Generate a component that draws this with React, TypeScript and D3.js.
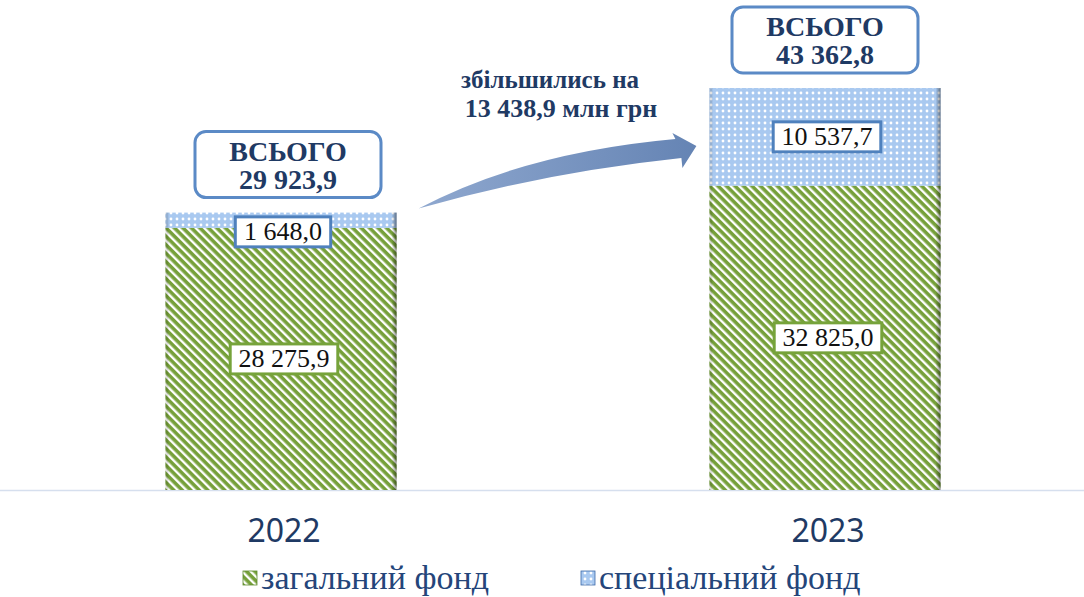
import React from 'react';
import * as d3 from 'd3';

// chart data (млн грн)
const years = ['2022', '2023'];
const generalFund = [28275.9, 32825.0];
const specialFund = [1648.0, 10537.7];
const totals = ['29 923,9', '43 362,8'];
const increaseText = ['збільшились на', '13 438,9 млн грн'];
const legendLabels = ['загальний фонд', 'спеціальний фонд'];

const W = 1084;
const H = 597;
const baseY = 490;

const fmt = (v: number) => {
  const s = v.toFixed(1).replace('.', ',');
  const [i, f] = s.split(',');
  return i.replace(/\B(?=(\d{3})+(?!\d))/g, ' ') + ',' + f;
};

const serif = { fontFamily: "'Liberation Serif', 'Times New Roman', serif" };

const App: React.FC = () => {
  const x = d3.scaleBand<string>().domain(years).range([9, 1097]).padding(0);
  const maxTotal = d3.max(years.map((_, i) => generalFund[i] + specialFund[i])) || 1;
  const y = d3.scaleLinear().domain([0, maxTotal]).range([baseY, 88]);
  const barW = x.bandwidth() * 0.425;

  const navy = '#1f3a64';

  const bars = years.map((yr, i) => {
    const cx = (x(yr) || 0) + x.bandwidth() / 2;
    const x0 = cx - barW / 2;
    const gTop = y(generalFund[i]);
    const sTop = y(generalFund[i] + specialFund[i]);
    return { yr, i, cx, x0, gTop, sTop };
  });

  const arrowFrom = bars[0].x0 + barW + 22;
  const arrowTo = bars[1].x0 - 13;
  const tailY = bars[0].sTop - 6;
  const tipY = y(maxTotal) + 58;
  const arrowPath = (() => {
    const p = d3.path();
    const L = arrowTo - arrowFrom;
    p.moveTo(arrowFrom, tailY + 2);
    p.quadraticCurveTo(arrowFrom + L * 0.45, tailY - 34, arrowTo - 15, tipY + 12);
    p.lineTo(arrowTo - 14, tipY + 22);
    p.lineTo(arrowTo, tipY);
    p.lineTo(arrowTo - 24, tipY - 13);
    p.lineTo(arrowTo - 21, tipY - 7);
    p.quadraticCurveTo(arrowFrom + L * 0.38, tailY - 54, arrowFrom, tailY + 2);
    p.closePath();
    return p.toString();
  })();

  const valueBox = (cx: number, cy: number, text: string, stroke: string, key: string) => {
    const w = text.length * 12.2 + 10;
    return (
      <g key={key}>
        <rect x={cx - w / 2} y={cy - 15} width={w} height={30} fill="#fff" stroke={stroke} strokeWidth={3} />
        <text x={cx} y={cy + 8.5} textAnchor="middle" style={serif} fontSize={26} fill="#111">
          {text}
        </text>
      </g>
    );
  };

  return (
    <svg width={W} height={H} style={{ display: 'block', position: 'absolute', left: 0, top: 0 }}>
      <defs>
        <pattern id="greenStripes" width="6" height="6" patternUnits="userSpaceOnUse" patternTransform="rotate(45)">
          <rect width="6" height="6" fill="#fff" />
          <rect width="6" height="3.6" fill="#76a03a" />
        </pattern>
        <pattern id="blueDots" width="6" height="6" patternUnits="userSpaceOnUse">
          <rect width="6" height="6" fill="#a9c9f0" />
          <circle cx="3" cy="3" r="1.4" fill="#fff" />
        </pattern>
        <linearGradient id="arrowGrad" x1="0" x2="1" y1="0" y2="0">
          <stop offset="0" stopColor="#8fa8cf" />
          <stop offset="1" stopColor="#6584b4" />
        </linearGradient>
        <linearGradient id="edgeShade" x1="0" x2="1" y1="0" y2="0">
          <stop offset="0" stopColor="#000" stopOpacity="0" />
          <stop offset="1" stopColor="#000" stopOpacity="0.45" />
        </linearGradient>
      </defs>

      <rect width={W} height={H} fill="#fff" />

      {/* baseline */}
      <line x1={0} x2={W} y1={baseY + 0.5} y2={baseY + 0.5} stroke="#d6dfee" strokeWidth={1.5} />

      {bars.map((b) => (
        <g key={b.yr}>
          <rect x={b.x0} y={b.gTop} width={barW} height={baseY - b.gTop} fill="url(#greenStripes)" />
          <rect x={b.x0} y={b.sTop} width={barW} height={b.gTop - b.sTop} fill="url(#blueDots)" />
          <rect x={b.x0 + barW - 5} y={b.sTop} width={5} height={baseY - b.sTop} fill="url(#edgeShade)" />
          <rect x={b.x0} y={b.sTop} width={3} height={baseY - b.sTop} fill="#000" opacity={0.12} />
          <text x={b.cx + 3} y={baseY + 52} textAnchor="middle" fontFamily="'Noto Sans', sans-serif" fontSize={32} fill={navy}>
            {b.yr}
          </text>
        </g>
      ))}

      {/* segment labels */}
      {bars.map((b) => {
        const sh = b.gTop - b.sTop;
        const sy = sh < 30 ? b.gTop + 4 : (b.sTop + b.gTop) / 2;
        return (
          <g key={'lab' + b.yr}>
            {valueBox(b.cx + 3, (b.gTop + baseY) / 2, fmt(generalFund[b.i]), '#76a33a', 'g' + b.yr)}
            {valueBox(b.cx + 2, sy, fmt(specialFund[b.i]), '#4f81bd', 's' + b.yr)}
          </g>
        );
      })}

      {/* totals */}
      {bars.map((b, i) => {
        const bx = b.cx + (i === 0 ? 7 : 0);
        return (
          <g key={'tot' + b.yr}>
            <rect x={bx - 93} y={b.sTop - 81} width={186} height={66} rx={11} fill="#fff" stroke="#5b8ac6" strokeWidth={3} />
            <text x={bx} y={b.sTop - 52} textAnchor="middle" style={serif} fontWeight="bold" fontSize={28} fill={navy}>
              ВСЬОГО
            </text>
            <text x={bx} y={b.sTop - 24} textAnchor="middle" style={serif} fontWeight="bold" fontSize={28} fill={navy}>
              {totals[i]}
            </text>
          </g>
        );
      })}

      {/* increase arrow */}
      <path d={arrowPath} fill="url(#arrowGrad)" />
      <text x={550} y={88} textAnchor="middle" style={serif} fontWeight="bold" fontSize={25} fill={navy}>
        {increaseText[0]}
      </text>
      <text x={561} y={117} textAnchor="middle" style={serif} fontWeight="bold" fontSize={26} fill={navy}>
        {increaseText[1]}
      </text>

      {/* legend */}
      {legendLabels.map((l, i) => {
        const lx = i === 0 ? 243 : 581;
        return (
          <g key={l}>
            <rect x={lx} y={571} width={14} height={14} fill={i === 0 ? 'url(#greenStripes)' : 'url(#blueDots)'} stroke={i === 0 ? '#5e8a2e' : '#3d6aa8'} strokeWidth={0.8} />
            <text x={lx + 18} y={589} style={serif} fontSize={34} fill="#24457a">
              {l}
            </text>
          </g>
        );
      })}
    </svg>
  );
};

export default App;
